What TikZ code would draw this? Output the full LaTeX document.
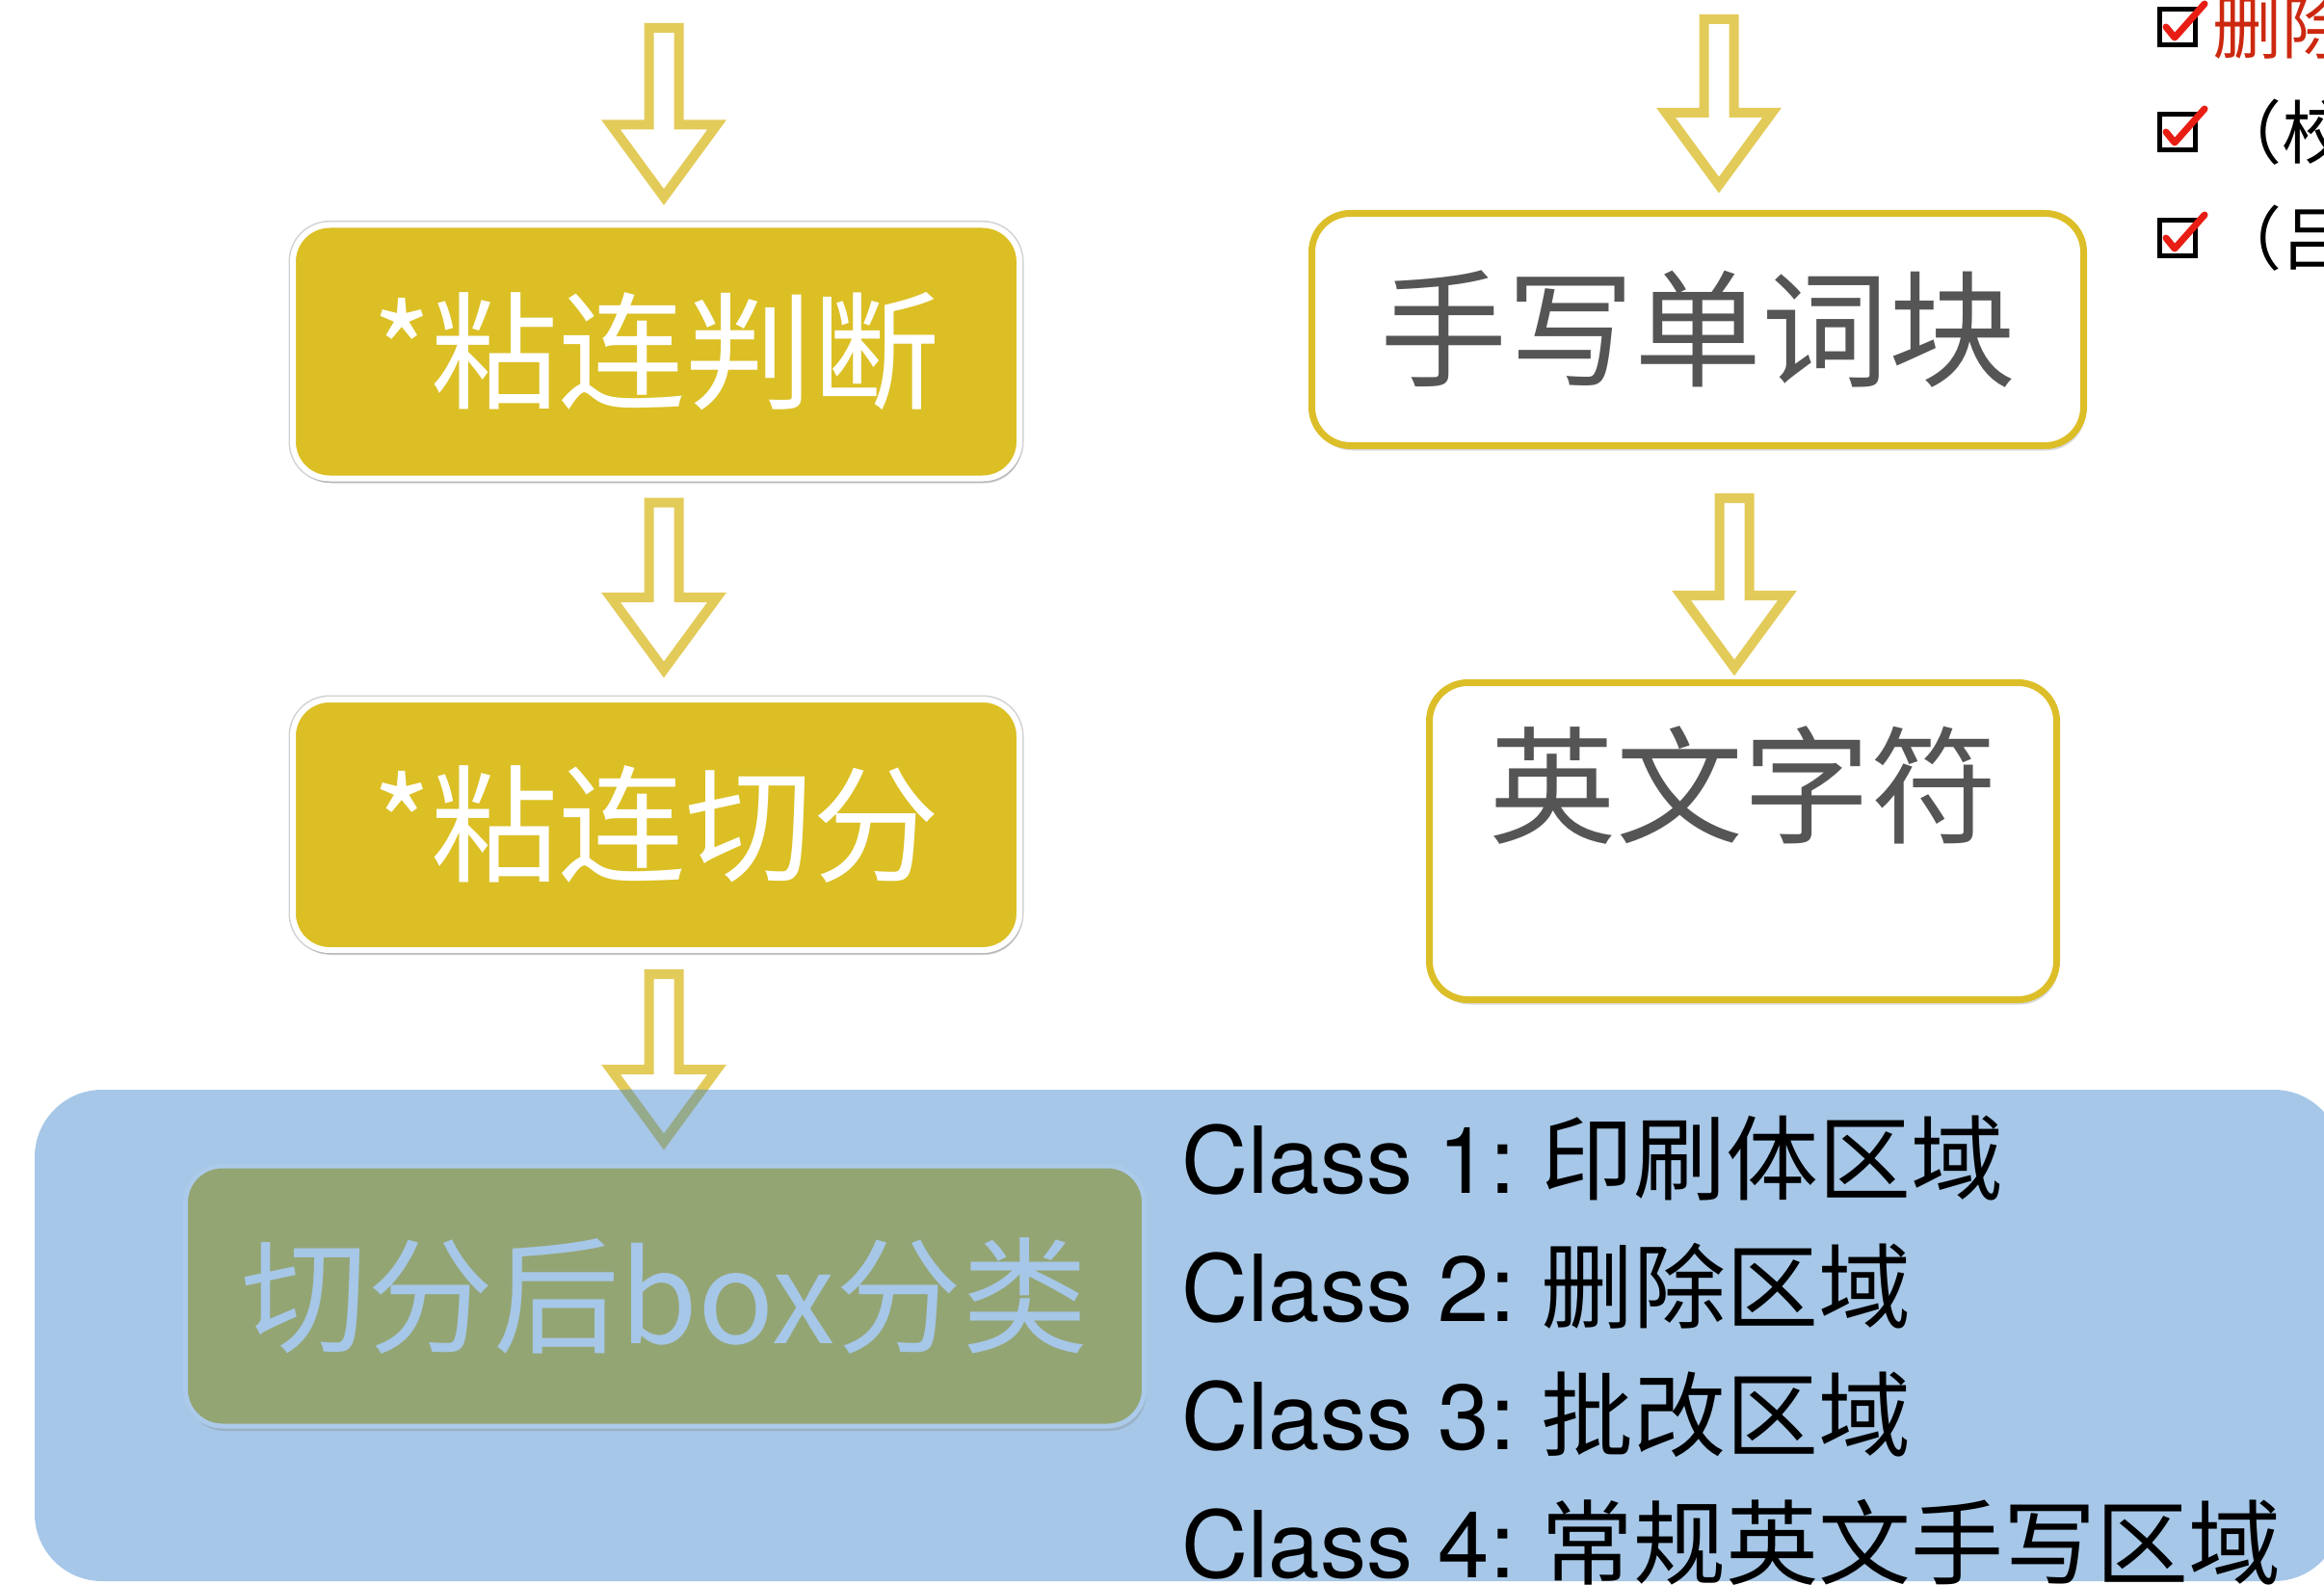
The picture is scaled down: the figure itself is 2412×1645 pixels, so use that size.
\documentclass[tikz,border=0pt]{standalone}
\usepackage{fontspec}
\usepackage{xcolor}
\usetikzlibrary{positioning,calc,shadows}
\newfontfamily\cjk{Noto Sans CJK SC}
\newfontfamily\helv{TeX Gyre Heros}

\definecolor{mustard}{RGB}{219,191,36}
\definecolor{arrowyellow}{RGB}{227,203,90}
\definecolor{boxyellow}{RGB}{220,190,40}
\definecolor{textgray}{RGB}{85,85,85}
\definecolor{zoneblue}{RGB}{166,199,231}
\definecolor{boxgreen}{RGB}{148,165,116}
\definecolor{greenedge}{RGB}{172,202,234}
\definecolor{mutedgreen}{RGB}{150,170,140}
\definecolor{delred}{RGB}{204,40,16}
\definecolor{tickred}{RGB}{232,30,20}

\tikzset{
  softshadow/.style={drop shadow={opacity=0.3, shadow xshift=2pt, shadow yshift=-5pt}},
  hollow/.style={draw=arrowyellow, line width=10pt, fill=white, line join=miter,
    drop shadow={opacity=0.25, shadow xshift=3pt, shadow yshift=-3pt}},
  bigtext/.style={font=\cjk\fontsize{132}{158}\selectfont},
  filledbox/.style={rectangle, rounded corners=38pt, fill=mustard, draw=white, line width=6pt,
    preaction={draw=black!18, line width=9pt},
    minimum width=754pt, softshadow, bigtext, text=white},
  openbox/.style={rectangle, rounded corners=40pt, fill=white, draw=boxyellow, line width=7pt,
    softshadow},
  classline/.style={anchor=base west, inner sep=0pt, font=\cjk\fontsize{96}{116}\selectfont},
  tickbox/.style={draw=black, line width=4.5pt, minimum size=37pt, inner sep=0pt},
  tick/.style={draw=tickred, line width=7pt, line cap=round, line join=round},
  note/.style={anchor=west, inner sep=0pt, font=\cjk\fontsize{72}{86}\selectfont}
}

% hollow block arrow: shaft from #2 down to tip #3
\newcommand{\hollowarrow}[3][]{%
  \draw[hollow,#1] let \p1=(#2), \p2=(#3) in
    (\x1-15.5pt,\y1) -- (\x1+15.5pt,\y1) -- (\x1+15.5pt,\y2+75pt) -- (\x1+55pt,\y2+75pt)
    -- (\x1,\y2) -- (\x1-55pt,\y2+75pt) -- (\x1-15.5pt,\y2+75pt) -- cycle;}

\begin{document}
\begin{tikzpicture}[x=1pt,y=-1pt]
\useasboundingbox (0,0) rectangle (2412,1645);

% left column
\node[filledbox, minimum height=263pt] (b1) at (681,365) {*粘连判断};
\node[filledbox, minimum height=260pt] (b2) at (681,856) {*粘连切分};

% right column
\node[openbox, minimum width=801pt, minimum height=241pt, bigtext, text=textgray] (r1) at (1762,342) {手写单词块};
\node[openbox, minimum width=651pt, minimum height=329pt] (r2) at (1809,873) {};
\node[bigtext, text=textgray, inner sep=0pt] (r2t) at ($(r2.north)+(0,110)$) {英文字符};

% arrows
\coordinate (lt) at (689,29);
\coordinate (rt) at (1784,20);
\hollowarrow{lt}{$(b1.north)+(0,-26)$}
\hollowarrow{$(b1.south)+(8,22)$}{$(b2.north)+(0,-28)$}
\hollowarrow{$(b2.south)+(8,22)$}{$(b2.south)+(0,196)$}
\hollowarrow{rt}{$(r1.north)+(0,-26)$}
\hollowarrow{$(r1.south)+(38,51)$}{$(r2.north)+(0,-12)$}

% blue zone
\node[rectangle, rounded corners=70pt, fill=zoneblue, minimum width=2394pt, minimum height=510pt,
  inner sep=0pt] (zone) at (1233,1386) {};
\begin{scope}
  \clip[rounded corners=70pt] (zone.north west) rectangle (zone.south east);
  \hollowarrow[draw=mutedgreen, fill=zoneblue]{$(b2.south)+(8,22)$}{$(b2.south)+(0,196)$}
\end{scope}

\node[rectangle, rounded corners=38pt, fill=boxgreen, draw=greenedge, line width=5pt,
  minimum width=995pt, minimum height=270pt, softshadow,
  font=\cjk\fontsize{131}{157}\selectfont, text=zoneblue] (g) at (690,1345) {切分后box分类};

\foreach \cnum/\cname [count=\i] in {1/印刷体区域, 2/删除区域, 3/批改区域, 4/常规英文手写区域}
  \node[classline] (cls\cnum) at (1226,{1238+133*(\i-1)}) {{\helv Class \cnum:\ }\cname};

% check list, top right
\foreach \y [count=\i] in {28,137,247} {
  \node[tickbox] (box\i) at (2260,\y) {};
  \draw[tick] ($(box\i.center)+(-12,0)$) -- ($(box\i.center)+(-3,11)$) -- ($(box\i.center)+(28,-24)$);
}
\node[note, text=delred] (n1) at (2296,28) {删除};
\node[note] (n2) at (2296,137) {（校};
\node[note] (n3) at (2296,247) {（吕};
\end{tikzpicture}
\end{document}
